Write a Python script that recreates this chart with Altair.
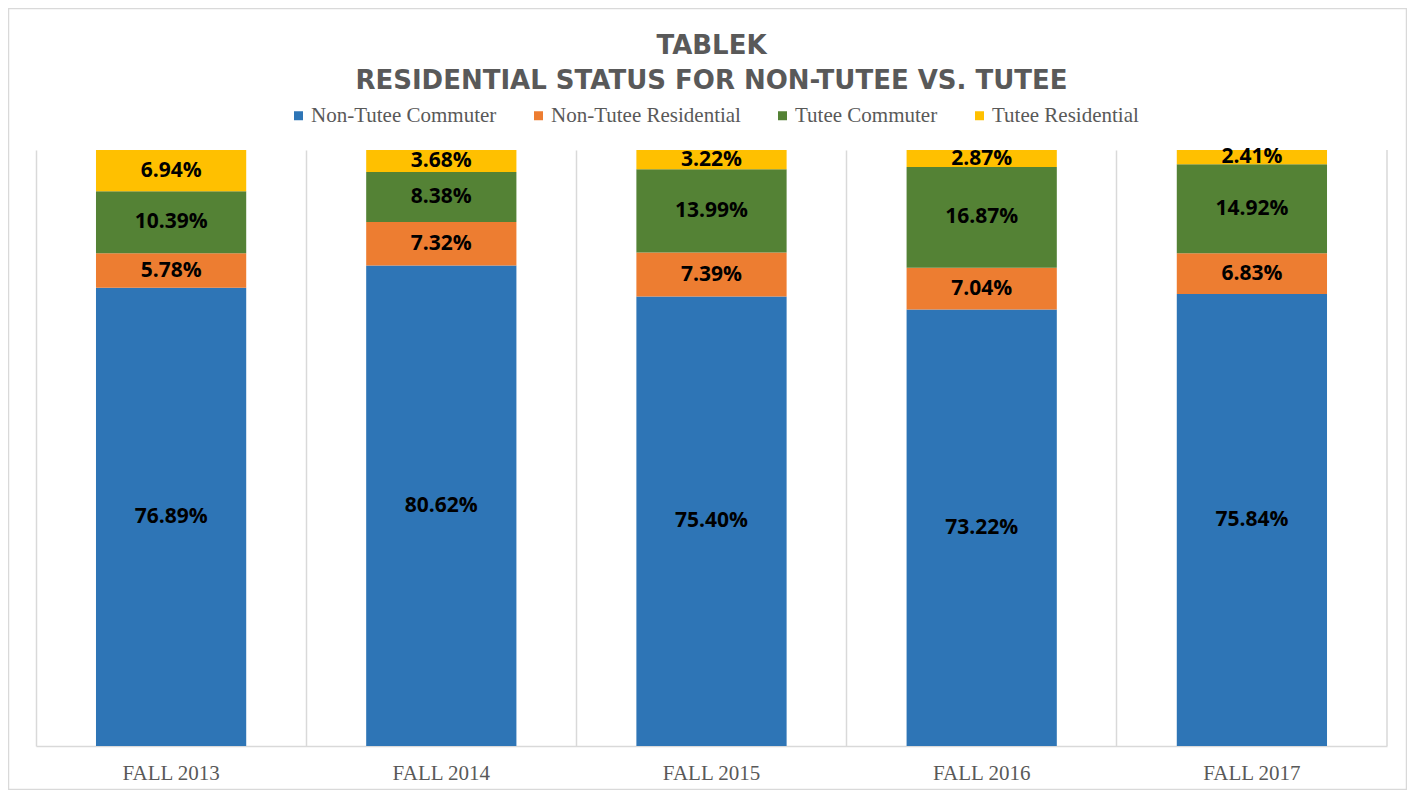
import altair as alt
import pandas as pd

categories = ["FALL 2013", "FALL 2014", "FALL 2015", "FALL 2016", "FALL 2017"]
series = ["Non-Tutee Commuter", "Non-Tutee Residential", "Tutee Commuter", "Tutee Residential"]
non_tutee_commuter = [76.89, 80.62, 75.40, 73.22, 75.84]
non_tutee_residential = [5.78, 7.32, 7.39, 7.04, 6.83]
tutee_commuter = [10.39, 8.38, 13.99, 16.87, 14.92]
tutee_residential = [6.94, 3.68, 3.22, 2.87, 2.41]
colors = ["#2E75B6", "#ED7D31", "#548235", "#FFC000"]

rows = []
for si, (s, vals) in enumerate(zip(series, [non_tutee_commuter, non_tutee_residential,
                                            tutee_commuter, tutee_residential])):
    for c, v in zip(categories, vals):
        rows.append({"cat": c, "series": s, "order": si, "value": v, "label": f"{v:.2f}%"})
df = pd.DataFrame(rows)

W, H = 1351, 596
GRID = "#d9d9d9"

base = alt.Chart(df).transform_stack(
    stack="value", as_=["y0", "y1"], groupby=["cat"],
    sort=[alt.SortField("order", order="ascending")]
).transform_calculate(mid="(datum.y0 + datum.y1) / 2")

x_enc = alt.X(
    "cat:N", sort=categories, title=None,
    scale=alt.Scale(paddingInner=0, paddingOuter=0),
    axis=alt.Axis(bandPosition=0, grid=True, gridColor=GRID, gridWidth=1.5,
                  domainColor=GRID, domainWidth=1.5, ticks=False, labelAngle=0,
                  labelFont="Liberation Serif", labelFontSize=21, labelColor="#595959",
                  labelPadding=16),
)
y_scale = alt.Scale(domain=[0, 100], nice=False, zero=True)

bars = base.mark_bar(width=alt.RelativeBandSize(0.556)).encode(
    x=x_enc,
    y=alt.Y("y0:Q", scale=y_scale, axis=None),
    y2="y1:Q",
    color=alt.Color(
        "series:N", sort=series,
        scale=alt.Scale(domain=series, range=colors),
        legend=alt.Legend(orient="none", legendX=252, legendY=-45, direction="horizontal",
                          columns=4, title=None, symbolType="square", symbolSize=81,
                          symbolStrokeWidth=0, labelFont="Liberation Serif", labelFontSize=21,
                          labelColor="#595959", columnPadding=31, labelOffset=2,
                          labelLimit=0),
    ),
)

labels = base.mark_text(font="Open Sans", fontWeight="bold", fontSize=21, color="black",
                        baseline="middle").encode(
    x=alt.X("cat:N", sort=categories),
    y=alt.Y("mid:Q", scale=y_scale, axis=None),
    text="label:N",
)

right_edge = alt.Chart(pd.DataFrame({"a": [0]})).mark_rule(color=GRID, strokeWidth=1.5).encode(
    x=alt.value(W), y=alt.value(0), y2=alt.value(H)
)

border = alt.Chart(pd.DataFrame({"a": [0]})).mark_rect(
    fillOpacity=0, stroke=GRID, strokeWidth=1.5
).encode(
    x=alt.value(-27.5), x2=alt.value(1370.5), y=alt.value(-141.5), y2=alt.value(H + 43.5)
)

chart = alt.layer(border, bars, labels, right_edge).properties(
    width=W, height=H,
    padding={"left": 28, "top": 142, "right": 20, "bottom": 44},
    autosize=alt.AutoSizeParams(type="none"),
    title=alt.TitleParams(
        text=["TABLEK", "RESIDENTIAL STATUS FOR NON-TUTEE VS. TUTEE"],
        font="DejaVu Sans", fontWeight="bold", fontSize=26, color="#595959",
        anchor="middle", lineHeight=35, offset=-86,
    ),
).configure_view(stroke=None)

chart.save("out.html", embed_options={"renderer": "svg", "actions": False})
